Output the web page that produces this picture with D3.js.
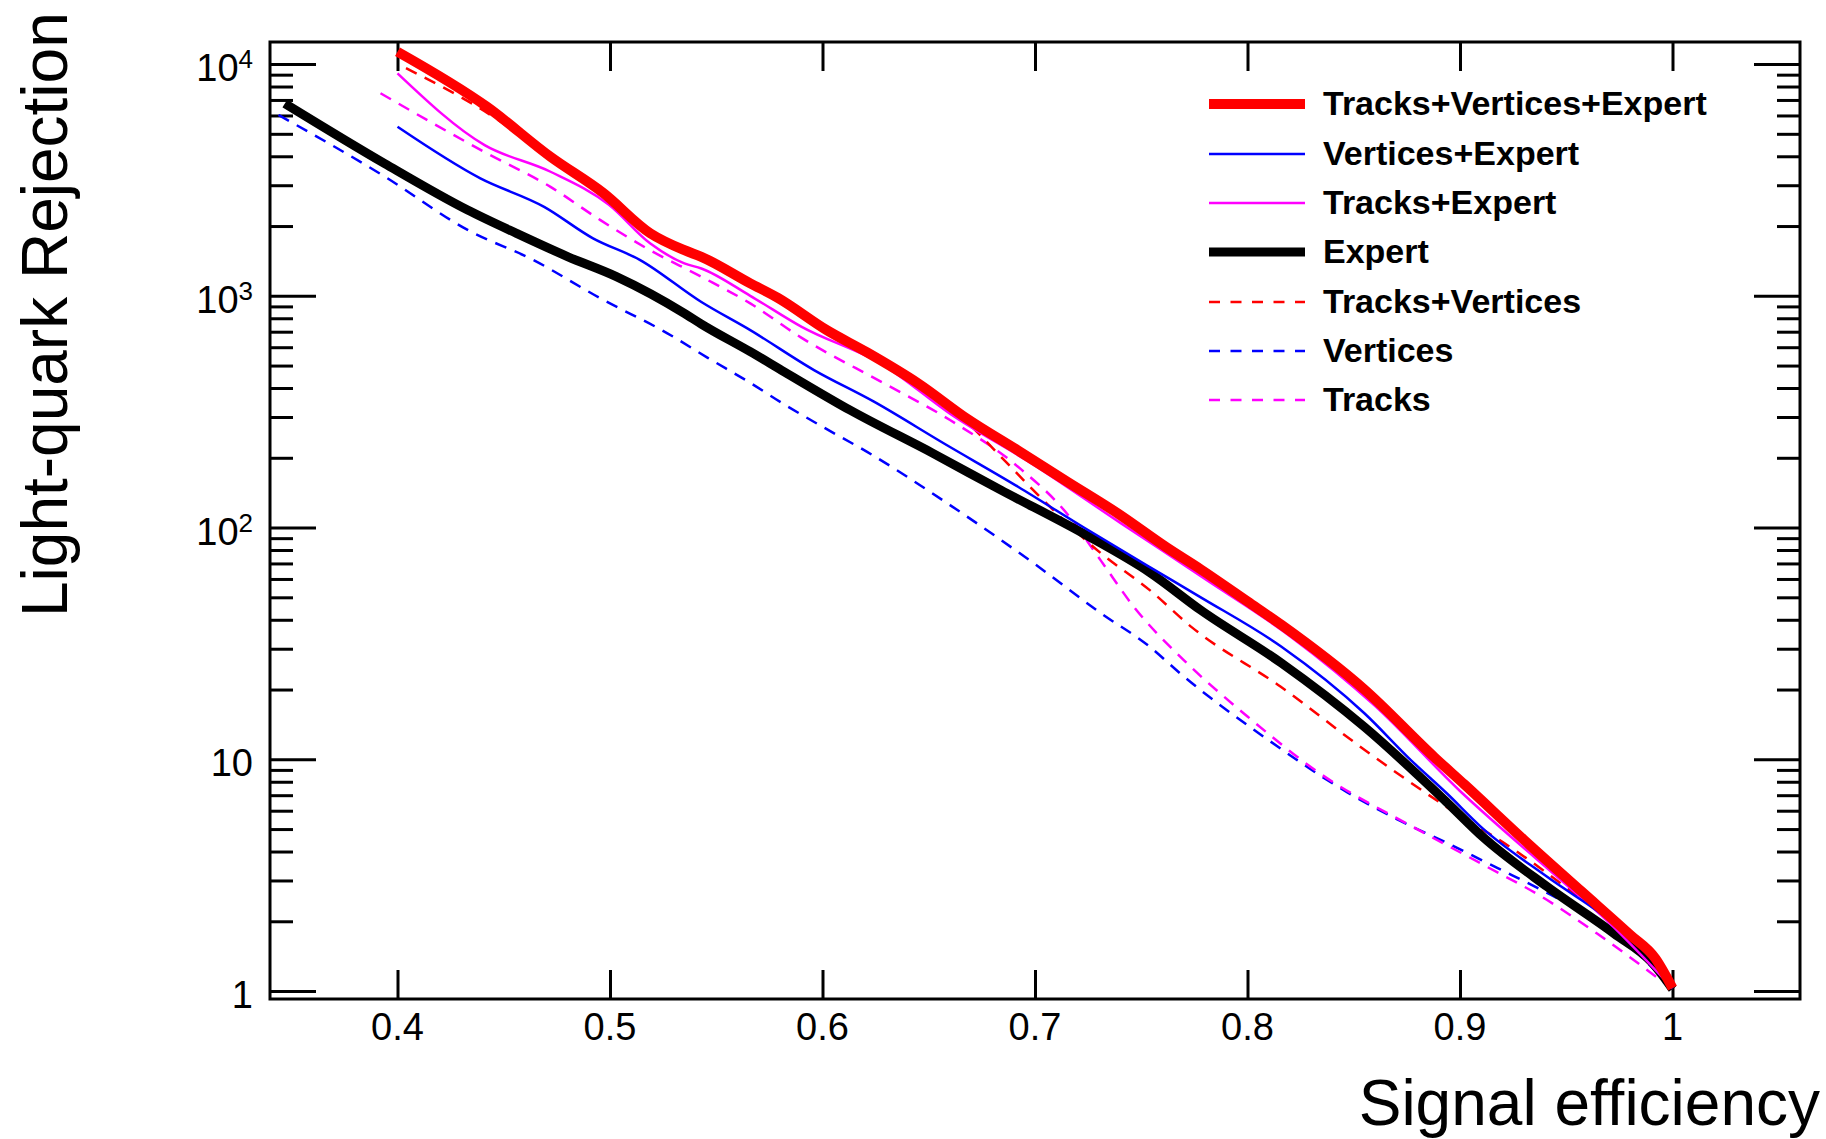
<!DOCTYPE html>
<html>
<head>
<meta charset="utf-8">
<script src="https://cdn.jsdelivr.net/npm/d3@7"></script>
<style>
  body { margin: 0; background: #fff; }
  svg { display: block; font-family: "Liberation Sans", Arial, Helvetica, sans-serif; }
</style>
</head>
<body>
<svg id="chart" width="1826" height="1139"></svg>
<script>

// [signal efficiency, light-quark rejection]
var trkVtxExpert = [
  [0.400, 11300], [0.442, 6550], [0.472, 3980], [0.497, 2770], [0.519, 1860],
  [0.535, 1573], [0.543, 1473], [0.566, 1132], [0.579, 980], [0.602, 711],
  [0.621, 570], [0.645, 419], [0.668, 295], [0.692, 215], [0.715, 158],
  [0.739, 115], [0.762, 82], [0.778, 66], [0.800, 48], [0.816, 38],
  [0.855, 20], [0.888, 10.2], [0.902, 7.8], [0.930, 4.5], [0.957, 2.7],
  [0.980, 1.75], [0.992, 1.38], [1.000, 1.03]
];
var vtxExpert = [
  [0.400, 5360], [0.439, 3210], [0.469, 2420], [0.492, 1770], [0.514, 1430],
  [0.543, 940], [0.566, 711], [0.596, 478], [0.624, 350], [0.657, 231],
  [0.692, 150], [0.723, 100], [0.754, 67.5], [0.778, 50], [0.816, 30.6],
  [0.855, 15.8], [0.877, 9.9], [0.894, 7.1], [0.910, 5.1], [0.941, 3.11],
  [0.9725, 1.96], [0.9906, 1.41], [1.000, 1.03]
];
var trkExpert = [
  [0.400, 9120], [0.441, 4470], [0.472, 3430], [0.4995, 2470], [0.519, 1680],
  [0.535, 1380], [0.543, 1312], [0.566, 1000], [0.590, 736], [0.629, 500],
  [0.660, 310], [0.700, 185], [0.740, 105], [0.780, 60], [0.820, 34],
  [0.860, 17], [0.900, 7.3], [0.940, 3.45], [0.970, 1.98], [1.000, 1.03]
];
var expert = [
  [0.347, 6760], [0.394, 3720], [0.433, 2345], [0.456, 1860], [0.480, 1477],
  [0.503, 1210], [0.535, 840], [0.543, 755], [0.566, 574], [0.582, 470],
  [0.613, 321], [0.652, 209], [0.684, 145], [0.723, 94], [0.754, 64],
  [0.778, 44], [0.816, 26], [0.855, 13.8], [0.894, 6.5], [0.911, 4.6],
  [0.941, 2.82], [0.9725, 1.77], [0.9906, 1.32], [1.000, 1.02]
];
var trkVtx = [
  [0.404, 9600], [0.445, 5930], [0.472, 3950], [0.497, 2800], [0.519, 1900],
  [0.535, 1580], [0.566, 1130], [0.602, 705], [0.645, 415], [0.668, 285],
  [0.684, 202], [0.707, 123], [0.731, 77.5], [0.754, 53.7], [0.774, 37],
  [0.8155, 20.6], [0.855, 11], [0.894, 6.2], [0.925, 4.1], [0.950, 2.8],
  [0.975, 1.85], [1.000, 1.02]
];
var vertices = [
  [0.344, 6030], [0.394, 3270], [0.433, 1924], [0.464, 1426], [0.4955, 975],
  [0.527, 689], [0.546, 540], [0.566, 421], [0.582, 340], [0.601, 269],
  [0.621, 212], [0.660, 125], [0.6995, 70], [0.731, 42.7], [0.754, 30.6],
  [0.7685, 23.4], [0.8077, 12.5], [0.847, 7.2], [0.8705, 5.5], [0.894, 4.35],
  [0.9175, 3.4], [0.941, 2.65], [0.970, 1.88], [1.000, 1.02]
];
var tracks = [
  [0.392, 7480], [0.441, 4170], [0.472, 2950], [0.4955, 2120], [0.519, 1570],
  [0.543, 1209], [0.566, 927], [0.590, 660], [0.629, 419], [0.660, 291],
  [0.692, 183], [0.715, 115], [0.731, 72], [0.7465, 45.5], [0.770, 26.8],
  [0.800, 15.3], [0.834, 8.7], [0.878, 5.1], [0.9096, 3.56], [0.941, 2.47],
  [0.9645, 1.77], [1.000, 1.02]
];

var xTicks = [0.4, 0.5, 0.6, 0.7, 0.8, 0.9, 1.0];
var xTickLabels = ["0.4", "0.5", "0.6", "0.7", "0.8", "0.9", "1"];
var yTicks = [1, 10, 100, 1000, 10000];
var yTickBase = ["1", "10", "10", "10", "10"];
var yTickExp = ["", "", "2", "3", "4"];

var legendNames = ["Tracks+Vertices+Expert", "Vertices+Expert", "Tracks+Expert", "Expert",
                   "Tracks+Vertices", "Vertices", "Tracks"];

var series = [
  { data: trkVtxExpert, color: "#ff0000", width: 10, dash: null },
  { data: vtxExpert,    color: "#0000ff", width: 2.5, dash: null },
  { data: trkExpert,    color: "#ff00ff", width: 2.5, dash: null },
  { data: expert,       color: "#000000", width: 9, dash: null },
  { data: trkVtx,       color: "#ff0000", width: 2.5, dash: "12,9" },
  { data: vertices,     color: "#0000ff", width: 2.5, dash: "12,9" },
  { data: tracks,       color: "#ff00ff", width: 2.5, dash: "12,9" }
];

// frame edges (window.top is read-only, hence the prefix)
var frameLeft = 270, frameRight = 1800, frameTop = 42, frameBottom = 999;

var svg = d3.select("#chart");

var x = d3.scaleLinear().domain([0.34, 1.06]).range([frameLeft, frameRight]);
var y = d3.scaleLog().domain([0.924, 12450]).range([frameBottom, frameTop]);

var minorY = [];
[1, 10, 100, 1000].forEach(d => {
  for (var k = 2; k <= 9; k++) minorY.push(d * k);
});

drawAxes();
drawCurves();
drawLegend();
drawTitles();

function drawAxes() {
  var axes = svg.append("g").attr("class", "axes");

  // ticks all point into the frame, ROOT style
  axes.append("g").attr("transform", `translate(0,${frameBottom})`)
    .call(d3.axisTop(x).tickValues(xTicks).tickSize(29).tickFormat(""));
  axes.append("g").attr("transform", `translate(0,${frameTop})`)
    .call(d3.axisBottom(x).tickValues(xTicks).tickSize(29).tickFormat(""));
  axes.append("g").attr("transform", `translate(${frameLeft},0)`)
    .call(d3.axisRight(y).tickValues(yTicks).tickSize(46).tickFormat(""));
  axes.append("g").attr("transform", `translate(${frameLeft},0)`)
    .call(d3.axisRight(y).tickValues(minorY).tickSize(23).tickFormat(""));
  axes.append("g").attr("transform", `translate(${frameRight},0)`)
    .call(d3.axisLeft(y).tickValues(yTicks).tickSize(46).tickFormat(""));
  axes.append("g").attr("transform", `translate(${frameRight},0)`)
    .call(d3.axisLeft(y).tickValues(minorY).tickSize(23).tickFormat(""));

  axes.selectAll(".domain").remove();
  axes.selectAll(".tick line")
    .style("stroke", "#000")
    .style("stroke-width", 3);

  svg.append("rect")
    .attr("x", frameLeft)
    .attr("y", frameTop)
    .attr("width", frameRight - frameLeft)
    .attr("height", frameBottom - frameTop)
    .style("fill", "none")
    .style("stroke", "#000")
    .style("stroke-width", 3);

  svg.append("g")
    .selectAll("text")
    .data(xTicks)
    .join("text")
    .attr("x", d => x(d))
    .attr("y", 1040)
    .text((d, i) => xTickLabels[i])
    .style("font-size", "38px")
    .style("text-anchor", "middle")
    .style("fill", "#000");

  var ylab = svg.append("g")
    .selectAll("text")
    .data(yTicks)
    .join("text")
    .attr("x", 253)
    .attr("y", d => y(d) + 17)
    .style("font-size", "38px")
    .style("text-anchor", "end")
    .style("fill", "#000");

  ylab.append("tspan").text((d, i) => yTickBase[i]);
  ylab.append("tspan")
    .attr("dy", -13)
    .style("font-size", "26px")
    .text((d, i) => yTickExp[i]);
}

function drawCurves() {
  svg.append("clipPath")
    .attr("id", "plot-clip")
    .append("rect")
    .attr("x", frameLeft)
    .attr("y", frameTop)
    .attr("width", frameRight - frameLeft)
    .attr("height", frameBottom - frameTop);

  var line = d3.line()
    .x(d => x(d[0]))
    .y(d => y(d[1]))
    .curve(d3.curveMonotoneX);

  // thin and dashed first, thick curves over them
  var drawOrder = [5, 6, 4, 3, 2, 1, 0];

  svg.append("g")
    .attr("clip-path", "url(#plot-clip)")
    .selectAll("path")
    .data(drawOrder.map(i => series[i]))
    .join("path")
    .attr("d", d => line(d.data))
    .style("fill", "none")
    .style("stroke", d => d.color)
    .style("stroke-width", d => d.width)
    .style("stroke-dasharray", d => d.dash)
    .style("stroke-linejoin", "round");
}

function drawLegend() {
  var rowY = [104, 154, 203, 252, 302, 351, 400];

  var rows = svg.append("g")
    .attr("class", "legend")
    .selectAll("g")
    .data(series)
    .join("g")
    .attr("transform", (d, i) => `translate(0,${rowY[i]})`);

  rows.append("line")
    .attr("x1", 1209)
    .attr("x2", 1305)
    .attr("y1", 0)
    .attr("y2", 0)
    .style("stroke", d => d.color)
    .style("stroke-width", d => d.width)
    .style("stroke-dasharray", d => d.dash ? "11,10.5" : null);

  rows.append("text")
    .attr("x", 1323)
    .attr("y", 11)
    .text((d, i) => legendNames[i])
    .style("font-size", "34px")
    .style("font-weight", "bold")
    .style("fill", "#000");
}

function drawTitles() {
  svg.append("text")
    .attr("transform", "translate(67,617) rotate(-90)")
    .text("Light-quark Rejection")
    .style("font-size", "64px")
    .style("fill", "#000");

  svg.append("text")
    .attr("x", 1820)
    .attr("y", 1125)
    .text("Signal efficiency")
    .style("font-size", "64px")
    .style("text-anchor", "end")
    .style("fill", "#000");
}
</script>
</body>
</html>
